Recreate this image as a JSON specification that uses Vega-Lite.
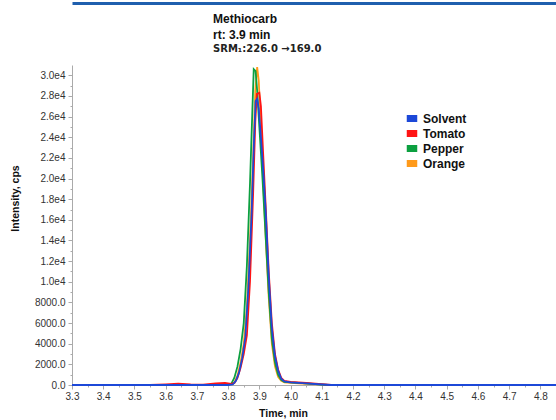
{
  "$schema": "https://vega.github.io/schema/vega-lite/v6.json",
  "width": 484,
  "height": 320,
  "autosize": {"type": "none"},
  "padding": {"left": 72, "top": 65, "right": 0, "bottom": 35},
  "background": "white",
  "config": {
    "view": {"stroke": null},
    "font": "Liberation Sans",
    "axis": {"grid": false}
  },
  "title": {
    "text": ["Methiocarb", "rt: 3.9 min"],
    "subtitle": "SRM\u2081:226.0 \u2192169.0",
    "anchor": "start",
    "frame": "group",
    "dx": 141,
    "offset": -52,
    "font": "Liberation Sans",
    "fontSize": 12,
    "fontWeight": "bold",
    "lineHeight": 16,
    "color": "#111",
    "subtitleFont": "DejaVu Sans",
    "subtitleFontSize": 10,
    "subtitleFontWeight": "bold",
    "subtitleColor": "#222",
    "subtitlePadding": 2
  },
  "data": {
    "values": [
      {"sample": "Orange", "time": 3.30, "intensity": 0},
      {"sample": "Orange", "time": 3.80, "intensity": 0},
      {"sample": "Orange", "time": 3.82, "intensity": 200},
      {"sample": "Orange", "time": 3.83, "intensity": 900},
      {"sample": "Orange", "time": 3.84, "intensity": 2200},
      {"sample": "Orange", "time": 3.85, "intensity": 4000},
      {"sample": "Orange", "time": 3.86, "intensity": 7500},
      {"sample": "Orange", "time": 3.87, "intensity": 14000},
      {"sample": "Orange", "time": 3.88, "intensity": 22000},
      {"sample": "Orange", "time": 3.887, "intensity": 28500},
      {"sample": "Orange", "time": 3.893, "intensity": 30800},
      {"sample": "Orange", "time": 3.898, "intensity": 29500},
      {"sample": "Orange", "time": 3.905, "intensity": 25000},
      {"sample": "Orange", "time": 3.912, "intensity": 20000},
      {"sample": "Orange", "time": 3.92, "intensity": 14500},
      {"sample": "Orange", "time": 3.93, "intensity": 8500},
      {"sample": "Orange", "time": 3.94, "intensity": 4000},
      {"sample": "Orange", "time": 3.95, "intensity": 1800},
      {"sample": "Orange", "time": 3.96, "intensity": 800},
      {"sample": "Orange", "time": 3.97, "intensity": 400},
      {"sample": "Orange", "time": 3.98, "intensity": 250},
      {"sample": "Orange", "time": 4.00, "intensity": 200},
      {"sample": "Orange", "time": 4.05, "intensity": 120},
      {"sample": "Orange", "time": 4.10, "intensity": 30},
      {"sample": "Orange", "time": 4.12, "intensity": 0},
      {"sample": "Orange", "time": 4.85, "intensity": 0},

      {"sample": "Pepper", "time": 3.30, "intensity": 0},
      {"sample": "Pepper", "time": 3.79, "intensity": 0},
      {"sample": "Pepper", "time": 3.81, "intensity": 100},
      {"sample": "Pepper", "time": 3.82, "intensity": 700},
      {"sample": "Pepper", "time": 3.83, "intensity": 1800},
      {"sample": "Pepper", "time": 3.84, "intensity": 3500},
      {"sample": "Pepper", "time": 3.85, "intensity": 6000},
      {"sample": "Pepper", "time": 3.86, "intensity": 11500},
      {"sample": "Pepper", "time": 3.87, "intensity": 19500},
      {"sample": "Pepper", "time": 3.877, "intensity": 26000},
      {"sample": "Pepper", "time": 3.882, "intensity": 30600},
      {"sample": "Pepper", "time": 3.888, "intensity": 30400},
      {"sample": "Pepper", "time": 3.893, "intensity": 28500},
      {"sample": "Pepper", "time": 3.90, "intensity": 25000},
      {"sample": "Pepper", "time": 3.91, "intensity": 20000},
      {"sample": "Pepper", "time": 3.92, "intensity": 14500},
      {"sample": "Pepper", "time": 3.93, "intensity": 9000},
      {"sample": "Pepper", "time": 3.94, "intensity": 4500},
      {"sample": "Pepper", "time": 3.95, "intensity": 2200},
      {"sample": "Pepper", "time": 3.96, "intensity": 1000},
      {"sample": "Pepper", "time": 3.97, "intensity": 500},
      {"sample": "Pepper", "time": 3.98, "intensity": 300},
      {"sample": "Pepper", "time": 4.00, "intensity": 250},
      {"sample": "Pepper", "time": 4.05, "intensity": 150},
      {"sample": "Pepper", "time": 4.10, "intensity": 40},
      {"sample": "Pepper", "time": 4.12, "intensity": 0},
      {"sample": "Pepper", "time": 4.85, "intensity": 0},

      {"sample": "Tomato", "time": 3.30, "intensity": 0},
      {"sample": "Tomato", "time": 3.55, "intensity": 0},
      {"sample": "Tomato", "time": 3.60, "intensity": 60},
      {"sample": "Tomato", "time": 3.64, "intensity": 120},
      {"sample": "Tomato", "time": 3.68, "intensity": 50},
      {"sample": "Tomato", "time": 3.72, "intensity": 30},
      {"sample": "Tomato", "time": 3.76, "intensity": 150},
      {"sample": "Tomato", "time": 3.79, "intensity": 200},
      {"sample": "Tomato", "time": 3.81, "intensity": 100},
      {"sample": "Tomato", "time": 3.82, "intensity": 200},
      {"sample": "Tomato", "time": 3.83, "intensity": 700},
      {"sample": "Tomato", "time": 3.84, "intensity": 1700},
      {"sample": "Tomato", "time": 3.85, "intensity": 3000},
      {"sample": "Tomato", "time": 3.86, "intensity": 4800},
      {"sample": "Tomato", "time": 3.87, "intensity": 10000},
      {"sample": "Tomato", "time": 3.88, "intensity": 18500},
      {"sample": "Tomato", "time": 3.887, "intensity": 25500},
      {"sample": "Tomato", "time": 3.892, "intensity": 28200},
      {"sample": "Tomato", "time": 3.90, "intensity": 28300},
      {"sample": "Tomato", "time": 3.905, "intensity": 27000},
      {"sample": "Tomato", "time": 3.912, "intensity": 22500},
      {"sample": "Tomato", "time": 3.92, "intensity": 17500},
      {"sample": "Tomato", "time": 3.93, "intensity": 11000},
      {"sample": "Tomato", "time": 3.94, "intensity": 6000},
      {"sample": "Tomato", "time": 3.95, "intensity": 3000},
      {"sample": "Tomato", "time": 3.96, "intensity": 1500},
      {"sample": "Tomato", "time": 3.97, "intensity": 700},
      {"sample": "Tomato", "time": 3.98, "intensity": 400},
      {"sample": "Tomato", "time": 4.00, "intensity": 300},
      {"sample": "Tomato", "time": 4.05, "intensity": 200},
      {"sample": "Tomato", "time": 4.10, "intensity": 80},
      {"sample": "Tomato", "time": 4.13, "intensity": 0},
      {"sample": "Tomato", "time": 4.85, "intensity": 0},

      {"sample": "Solvent", "time": 3.30, "intensity": 0},
      {"sample": "Solvent", "time": 3.80, "intensity": 0},
      {"sample": "Solvent", "time": 3.815, "intensity": 50},
      {"sample": "Solvent", "time": 3.825, "intensity": 400},
      {"sample": "Solvent", "time": 3.835, "intensity": 1200},
      {"sample": "Solvent", "time": 3.845, "intensity": 2600},
      {"sample": "Solvent", "time": 3.855, "intensity": 4600},
      {"sample": "Solvent", "time": 3.865, "intensity": 9500},
      {"sample": "Solvent", "time": 3.875, "intensity": 16500},
      {"sample": "Solvent", "time": 3.882, "intensity": 23000},
      {"sample": "Solvent", "time": 3.888, "intensity": 27500},
      {"sample": "Solvent", "time": 3.893, "intensity": 27700},
      {"sample": "Solvent", "time": 3.898, "intensity": 26800},
      {"sample": "Solvent", "time": 3.905, "intensity": 24000},
      {"sample": "Solvent", "time": 3.912, "intensity": 21000},
      {"sample": "Solvent", "time": 3.92, "intensity": 17000},
      {"sample": "Solvent", "time": 3.93, "intensity": 10500},
      {"sample": "Solvent", "time": 3.94, "intensity": 5500},
      {"sample": "Solvent", "time": 3.95, "intensity": 2800},
      {"sample": "Solvent", "time": 3.96, "intensity": 1400},
      {"sample": "Solvent", "time": 3.97, "intensity": 600},
      {"sample": "Solvent", "time": 3.98, "intensity": 350},
      {"sample": "Solvent", "time": 4.00, "intensity": 250},
      {"sample": "Solvent", "time": 4.05, "intensity": 150},
      {"sample": "Solvent", "time": 4.10, "intensity": 50},
      {"sample": "Solvent", "time": 4.13, "intensity": 0},
      {"sample": "Solvent", "time": 4.85, "intensity": 0}
    ]
  },
  "layer": [
    {
      "mark": {"type": "line", "strokeWidth": 1.8, "clip": false},
      "encoding": {
        "x": {
          "field": "time",
          "type": "quantitative",
          "title": "Time, min",
          "scale": {"domain": [3.3, 4.85], "nice": false, "zero": false},
          "axis": {
            "values": [3.3, 3.35, 3.4, 3.45, 3.5, 3.55, 3.6, 3.65, 3.7, 3.75, 3.8, 3.85, 3.9, 3.95, 4.0, 4.05, 4.1, 4.15, 4.2, 4.25, 4.3, 4.35, 4.4, 4.45, 4.5, 4.55, 4.6, 4.65, 4.7, 4.75, 4.8],
            "labelExpr": "abs(round(datum.value * 10) - datum.value * 10) > 0.01 ? '' : format(datum.value, '.1f')",
            "tickSize": {"condition": {"test": "abs(round(datum.value * 10) - datum.value * 10) > 0.01", "value": 2}, "value": 4},
            "tickColor": "#aaa",
            "domainColor": "#aaa",
            "labelColor": "#333",
            "labelFontSize": 10,
            "labelPadding": 2,
            "labelFlush": false,
            "titleFontSize": 10.5,
            "titleFontWeight": "bold",
            "titleColor": "#111",
            "titleX": 211,
            "titleY": 28,
            "titleBaseline": "middle"
          }
        },
        "y": {
          "field": "intensity",
          "type": "quantitative",
          "title": "Intensity, cps",
          "scale": {"domain": [0, 31000], "nice": false},
          "axis": {
            "values": [0, 1000, 2000, 3000, 4000, 5000, 6000, 7000, 8000, 9000, 10000, 11000, 12000, 13000, 14000, 15000, 16000, 17000, 18000, 19000, 20000, 21000, 22000, 23000, 24000, 25000, 26000, 27000, 28000, 29000, 30000],
            "labelExpr": "datum.value % 2000 != 0 ? '' : (datum.value >= 10000 ? format(datum.value / 10000, '.1f') + 'e4' : format(datum.value, '.1f'))",
            "tickSize": {"condition": {"test": "datum.value % 2000 != 0", "value": 2}, "value": 4},
            "tickColor": "#aaa",
            "domainColor": "#aaa",
            "labelColor": "#333",
            "labelFontSize": 10,
            "labelPadding": 3,
            "labelFlush": false,
            "titleFontSize": 10.5,
            "titleFontWeight": "bold",
            "titleColor": "#111",
            "titleX": -57,
            "titleY": 133,
            "titleBaseline": "middle"
          }
        },
        "stroke": {
          "field": "sample",
          "type": "nominal",
          "scale": {
            "domain": ["Solvent", "Tomato", "Pepper", "Orange"],
            "range": ["#1c48d8", "#ff1414", "#0ca040", "#ff9a1a"]
          },
          "legend": {
            "title": null,
            "orient": "none",
            "legendX": 331,
            "legendY": 46,
            "symbolType": "stroke",
            "symbolStrokeWidth": 7,
            "symbolSize": 110,
            "labelFont": "Liberation Sans",
            "labelFontSize": 12,
            "labelFontWeight": "bold",
            "labelColor": "#111",
            "labelOffset": 2,
            "rowPadding": 0,
            "clipHeight": 15
          }
        }
      }
    },
    {
      "mark": {"type": "point", "opacity": 0},
      "encoding": {
        "x": {
          "field": "time",
          "type": "quantitative",
          "axis": {
            "orient": "top",
            "offset": 62,
            "title": null,
            "labels": false,
            "ticks": false,
            "domainColor": "#1f5fae",
            "domainWidth": 3
          }
        }
      }
    }
  ],
  "resolve": {"axis": {"x": "independent"}}
}
